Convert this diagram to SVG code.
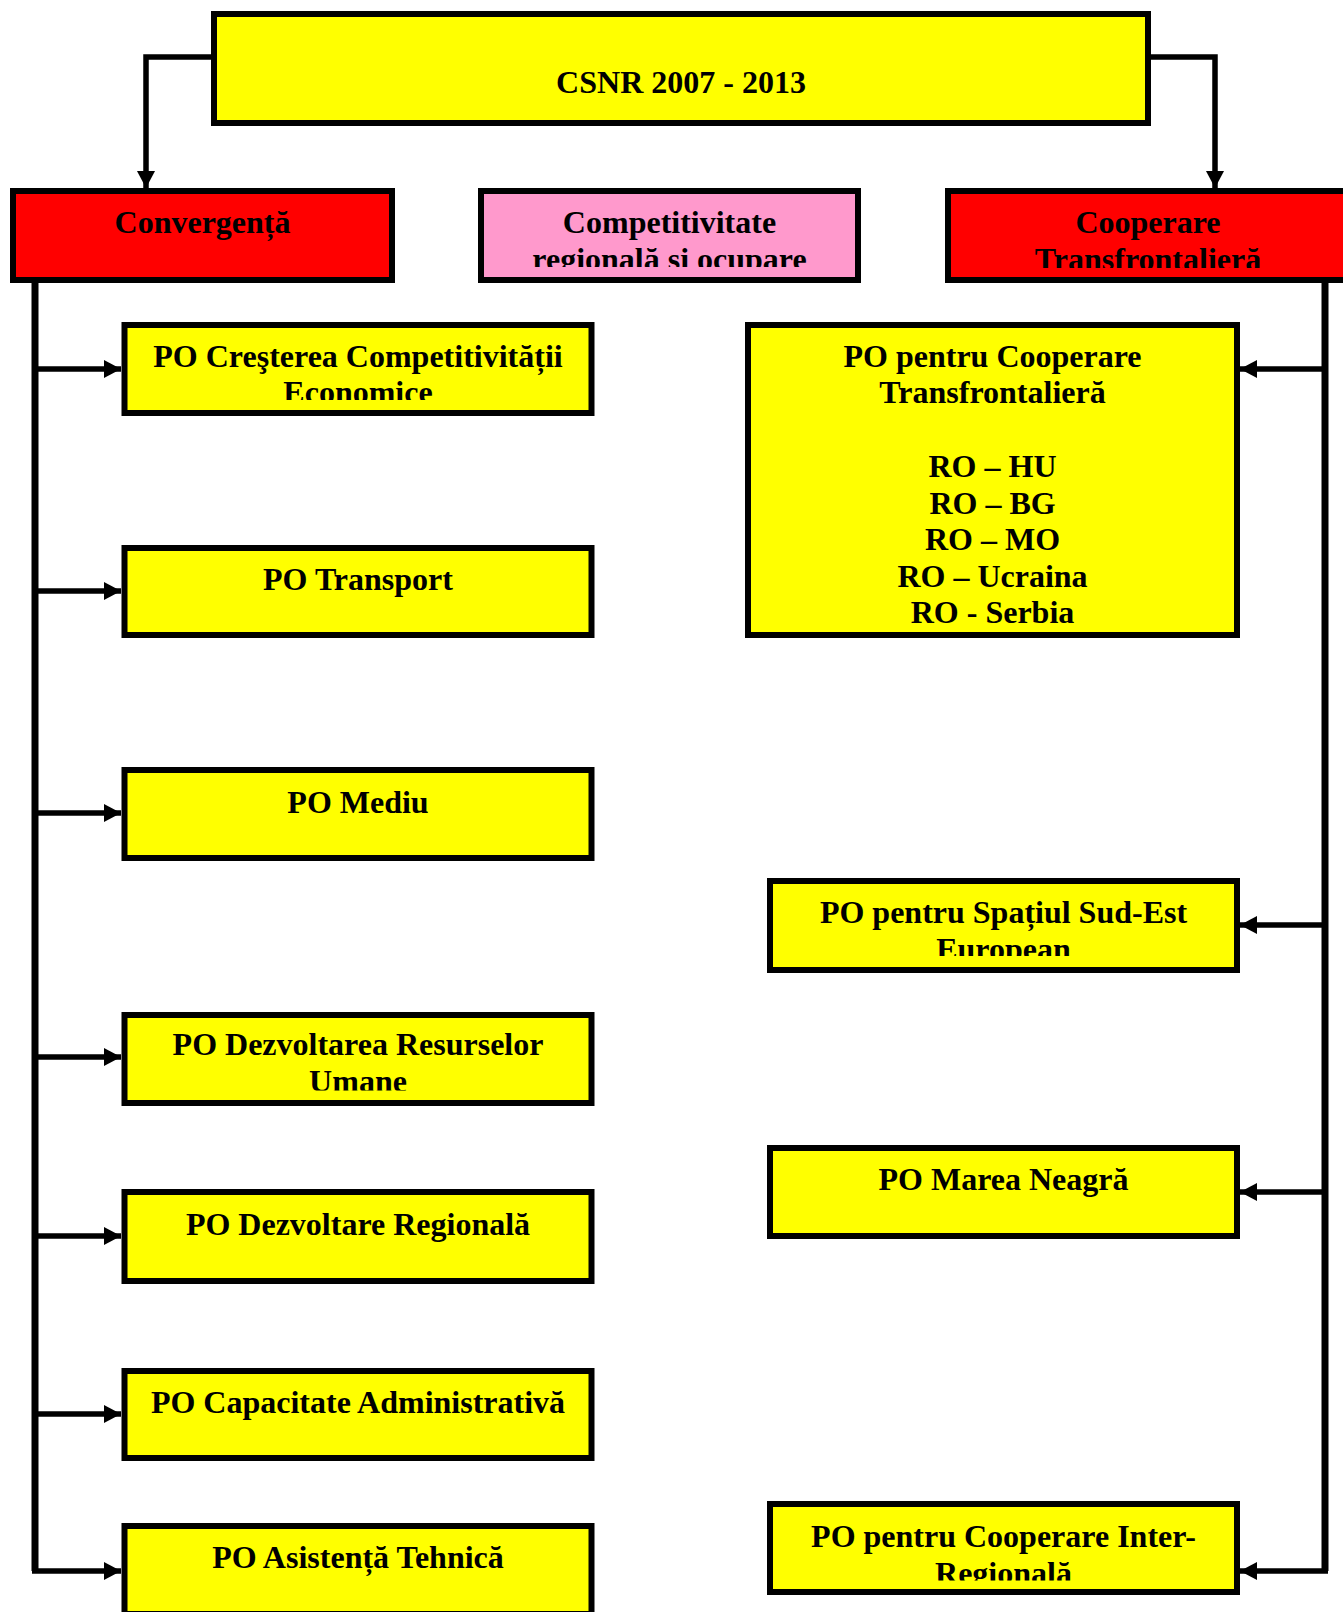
<svg xmlns="http://www.w3.org/2000/svg" width="1343" height="1612" viewBox="0 0 1343 1612">
<style>
.box{stroke:#000;stroke-width:6}
.y{fill:#FFFF00}
.r{fill:#FF0000}
.p{fill:#FF99CC}
.t{font-family:"Liberation Serif","Times New Roman",serif;font-weight:bold;font-size:32px;fill:#000;text-anchor:middle}
.c{fill:none;stroke:#000;stroke-width:5.5}
.trunk{fill:none;stroke:#000;stroke-width:7}
</style>
<defs>
<marker id="ah" markerUnits="userSpaceOnUse" markerWidth="18" markerHeight="19" refX="17" refY="9" orient="auto">
<path d="M0,0 L17,9 L0,18 Z" fill="#000"/>
</marker>
<clipPath id="cpComp"><rect x="478" y="188" width="383" height="79"/></clipPath>
<clipPath id="cpCoop"><rect x="945" y="188" width="406" height="80"/></clipPath>
<clipPath id="cpL1"><rect x="121" y="322" width="474" height="78"/></clipPath>
<clipPath id="cpL4"><rect x="121" y="1012" width="474" height="78.5"/></clipPath>
<clipPath id="cpR2"><rect x="767" y="878" width="474" height="78"/></clipPath>
<clipPath id="cpR4"><rect x="767" y="1501" width="474" height="79.5"/></clipPath>
</defs>

<g id="connectors">
<path class="c" d="M211,57 H146 V188" marker-end="url(#ah)"/>
<path class="c" d="M1151,57 H1215 V188" marker-end="url(#ah)"/>
<path class="trunk" d="M35,283 V1571"/>
<path class="c" d="M35,369 H121" marker-end="url(#ah)"/>
<path class="c" d="M35,591 H121" marker-end="url(#ah)"/>
<path class="c" d="M35,813 H121" marker-end="url(#ah)"/>
<path class="c" d="M35,1057 H121" marker-end="url(#ah)"/>
<path class="c" d="M35,1236 H121" marker-end="url(#ah)"/>
<path class="c" d="M35,1414 H121" marker-end="url(#ah)"/>
<path class="c" d="M32,1571 H121" marker-end="url(#ah)"/>
<path class="trunk" d="M1325,283 V1571"/>
<path class="c" d="M1325,369 H1240" marker-end="url(#ah)"/>
<path class="c" d="M1325,925 H1240" marker-end="url(#ah)"/>
<path class="c" d="M1325,1192 H1240" marker-end="url(#ah)"/>
<path class="c" d="M1328,1571 H1240" marker-end="url(#ah)"/>
</g>

<g id="csnr">
<rect class="box y" x="214" y="14" width="934" height="109"/>
<text class="t" x="681" y="93">CSNR 2007 - 2013</text>
</g>

<g id="convergenta">
<rect class="box r" x="13" y="191" width="379" height="89"/>
<text class="t" x="202.5" y="233">Convergență</text>
</g>

<g id="competitivitate">
<rect class="box p" x="481" y="191" width="377" height="89"/>
<g clip-path="url(#cpComp)">
<text class="t" x="669.5" y="233">Competitivitate</text>
<text class="t" x="669.5" y="270">regională si ocupare</text>
</g>
</g>

<g id="cooperare">
<rect class="box r" x="948" y="191" width="400" height="89"/>
<g clip-path="url(#cpCoop)">
<text class="t" x="1148" y="233">Cooperare</text>
<text class="t" x="1148" y="270">Transfrontalieră</text>
</g>
</g>

<g id="po-competitivitate">
<rect class="box y" x="124.5" y="325" width="467" height="88"/>
<g clip-path="url(#cpL1)">
<text class="t" x="358" y="367">PO Creşterea Competitivității</text>
<text class="t" x="358" y="403">Economice</text>
</g>
</g>

<g id="po-transport">
<rect class="box y" x="124.5" y="548" width="467" height="87"/>
<text class="t" x="358" y="590">PO Transport</text>
</g>

<g id="po-mediu">
<rect class="box y" x="124.5" y="770" width="467" height="88"/>
<text class="t" x="358" y="812.5">PO Mediu</text>
</g>

<g id="po-resurse-umane">
<rect class="box y" x="124.5" y="1015" width="467" height="88"/>
<g clip-path="url(#cpL4)">
<text class="t" x="358" y="1055">PO Dezvoltarea Resurselor</text>
<text class="t" x="358" y="1092">Umane</text>
</g>
</g>

<g id="po-regionala">
<rect class="box y" x="124.5" y="1192" width="467" height="89"/>
<text class="t" x="358" y="1235">PO Dezvoltare Regională</text>
</g>

<g id="po-capacitate">
<rect class="box y" x="124.5" y="1371" width="467" height="87"/>
<text class="t" x="358" y="1412.5">PO Capacitate Administrativă</text>
</g>

<g id="po-asistenta">
<rect class="box y" x="124.5" y="1526" width="467" height="88"/>
<text class="t" x="358" y="1568">PO Asistență Tehnică</text>
</g>

<g id="po-transfrontaliera">
<rect class="box y" x="748" y="325" width="489" height="310"/>
<text class="t" x="992.5" y="366.7">PO pentru Cooperare</text>
<text class="t" x="992.5" y="403.4">Transfrontalieră</text>
<text class="t" x="992.5" y="476.8">RO – HU</text>
<text class="t" x="992.5" y="513.5">RO – BG</text>
<text class="t" x="992.5" y="550.2">RO – MO</text>
<text class="t" x="992.5" y="586.9">RO – Ucraina</text>
<text class="t" x="992.5" y="623">RO - Serbia</text>
</g>

<g id="po-sud-est">
<rect class="box y" x="770" y="881" width="467" height="89"/>
<g clip-path="url(#cpR2)">
<text class="t" x="1003.5" y="923">PO pentru Spațiul Sud-Est</text>
<text class="t" x="1003.5" y="960">European</text>
</g>
</g>

<g id="po-marea-neagra">
<rect class="box y" x="770" y="1148" width="467" height="88"/>
<text class="t" x="1003.5" y="1190">PO Marea Neagră</text>
</g>

<g id="po-inter-regionala">
<rect class="box y" x="770" y="1504" width="467" height="88"/>
<g clip-path="url(#cpR4)">
<text class="t" x="1003.5" y="1546.5">PO pentru Cooperare Inter-</text>
<text class="t" x="1003.5" y="1583.5">Regională</text>
</g>
</g>
</svg>
